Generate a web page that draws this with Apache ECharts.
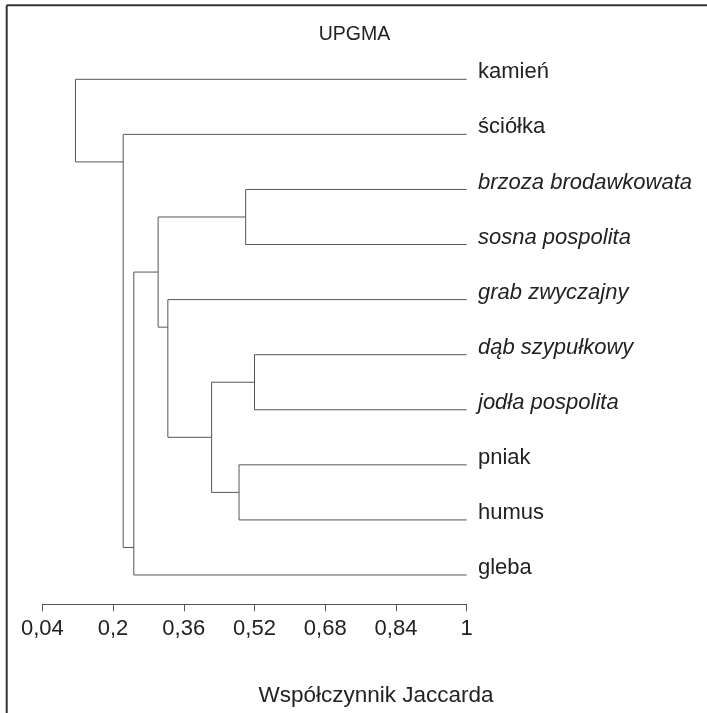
<!DOCTYPE html>
<html>
<head>
<meta charset="utf-8">
<script src="https://cdn.jsdelivr.net/npm/echarts@6.0.0/dist/echarts.min.js"></script>
<style>
html,body{margin:0;padding:0;background:#fff;}
#chart{width:707px;height:713px;}
</style>
</head>
<body>
<div id="chart"></div>
<script>
// Leaves (top to bottom)
var leaves = ['kamień','ściółka','brzoza brodawkowata','sosna pospolita','grab zwyczajny','dąb szypułkowy','jodła pospolita','pniak','humus','gleba'];
var italicLeaves = ['brzoza brodawkowata','sosna pospolita','grab zwyczajny','dąb szypułkowy','jodła pospolita'];
// Merges: child A, child B (leaf index 0..9, merged node 10+), Jaccard similarity of joining
var mergeA = [2, 5, 7, 11, 4, 10, 15, 1, 0];
var mergeB = [3, 6, 8, 12, 13, 14, 9, 16, 17];
var mergeHeight = [0.500, 0.520, 0.485, 0.423, 0.324, 0.302, 0.247, 0.223, 0.115];
var tickValues = [0.04, 0.2, 0.36, 0.52, 0.68, 0.84, 1];
var leafHeight = 1;

// layout of nodes
var n = leaves.length;
var nodeY = [], nodeH = [];
for (var i = 0; i < n; i++) { nodeY.push(i); nodeH.push(leafHeight); }
for (var k = 0; k < mergeA.length; k++) {
  var a = mergeA[k], b = mergeB[k], y;
  var aLeaf = a < n, bLeaf = b < n;
  if (aLeaf === bLeaf) y = (nodeY[a] + nodeY[b]) / 2;
  else if (aLeaf) y = nodeY[a] + (nodeY[b] > nodeY[a] ? 0.5 : -0.5);
  else y = nodeY[b] + (nodeY[a] > nodeY[b] ? 0.5 : -0.5);
  nodeY.push(y); nodeH.push(mergeHeight[k]);
}
var links = [];
for (var k = 0; k < mergeA.length; k++) {
  var a = mergeA[k], b = mergeB[k];
  links.push([nodeH[a], nodeY[a], mergeHeight[k], nodeY[b], nodeH[b]]);
}

var FONT = '"Liberation Sans", Arial, sans-serif';
var chart = echarts.init(document.getElementById('chart'), null, {renderer: 'canvas'});
var option = {
  backgroundColor: '#fff',
  animation: false,
  title: [{
    text: 'UPGMA',
    left: 349.5, top: 20, textAlign: 'center',
    textStyle: {fontFamily: FONT, fontSize: 19.5, fontWeight: 'normal', color: '#222'}
  }, {
    text: 'Współczynnik Jaccarda',
    left: 371, top: 679.5, textAlign: 'center',
    textStyle: {fontFamily: FONT, fontSize: 22.5, fontWeight: 'normal', color: '#222'}
  }],
  grid: {left: 42.3, right: 240.3, top: 79.3, bottom: 138},
  xAxis: {
    type: 'value', min: 0.04, max: 1, offset: 29.3, position: 'bottom',
    axisLine: {show: true, onZero: false, lineStyle: {color: '#555', width: 1}},
    axisTick: {show: true, length: 7, inside: false, customValues: tickValues, lineStyle: {color: '#555'}},
    axisLabel: {
      customValues: tickValues, margin: 13.6,
      fontFamily: FONT, fontSize: 22, color: '#222',
      formatter: function (v) { return String(+v.toFixed(2)).replace('.', ','); }
    },
    splitLine: {show: false}
  },
  yAxis: {
    type: 'value', min: 0, max: n - 1, interval: 1, inverse: true, position: 'right',
    axisLine: {show: false}, axisTick: {show: false}, splitLine: {show: false},
    axisLabel: {
      margin: 11.3, padding: [0, 0, 14, 0],
      fontFamily: FONT, fontSize: 22, color: '#222',
      formatter: function (v) {
        var name = leaves[v];
        if (name === undefined) return '';
        return italicLeaves.indexOf(name) >= 0 ? '{i|' + name + '}' : '{n|' + name + '}';
      },
      rich: {
        i: {fontFamily: FONT, fontSize: 22, fontStyle: 'italic', color: '#222'},
        n: {fontFamily: FONT, fontSize: 22, color: '#222'}
      }
    }
  },
  series: [{
    type: 'custom',
    coordinateSystem: 'cartesian2d',
    clip: false,
    encode: {x: [0, 2, 4], y: [1, 3]},
    data: links,
    renderItem: function (params, api) {
      var hA = api.value(0), yA = api.value(1), h = api.value(2), yB = api.value(3), hB = api.value(4);
      var pts = [api.coord([hA, yA]), api.coord([h, yA]), api.coord([h, yB]), api.coord([hB, yB])];
      return {
        type: 'polyline',
        shape: {points: pts},
        style: {stroke: '#555', lineWidth: 1, fill: null}
      };
    }
  }],
  graphic: [
    {type: 'line', shape: {x1: 6.7, y1: 5.3, x2: 707, y2: 5.3}, style: {stroke: '#333', lineWidth: 2}},
    {type: 'line', shape: {x1: 6.7, y1: 5.3, x2: 6.7, y2: 713}, style: {stroke: '#333', lineWidth: 2}}
  ]
};
chart.setOption(option);
</script>
</body>
</html>
